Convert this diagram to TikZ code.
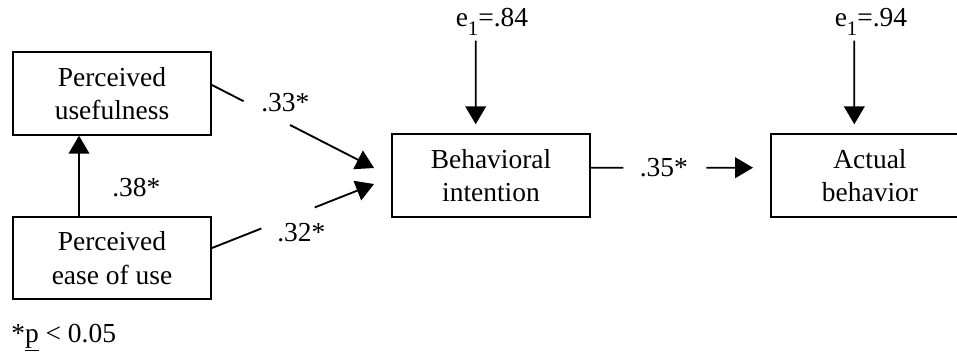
\documentclass[tikz,border=0pt]{standalone}
\usepackage{fontspec}
\setmainfont{Liberation Serif}
\usetikzlibrary{arrows.meta,calc}

\begin{document}
\begin{tikzpicture}[x=0.75pt,y=-0.75pt,
  every node/.style={font=\fontsize{20.6pt}{25pt}\selectfont, inner sep=0pt},
  varbox/.style={draw, line width=1.4pt, minimum width=148.5pt,
    minimum height=61.9pt, align=center},
  coef/.style={anchor=base west},
  link/.style={line width=1.4pt},
  arrowlink/.style={link, -{Triangle[length=13.5pt,width=15.5pt]}}]

% canvas
\useasboundingbox (0,0) rectangle (957,351);
\fill[white] (0,0) rectangle (957,351);

% variables
\node[varbox] (pu)   at (112,93.5)  {Perceived\\usefulness};
\node[varbox] (peou) at (112,258)   {Perceived\\ease of use};
\node[varbox] (bi)   at (491,175.5) {Behavioral\\intention};
\node[varbox] (ab)   at (870,175.5) {Actual\\behavior};

% path coefficients and error terms
\node[coef] (c33) at (261,111.7) {.33*};
\node[coef] (c32) at (277,241.7) {.32*};
\node[coef] (c38) at (112,196.7) {.38*};
\node[coef] (c35) at (639.5,176.7) {.35*};
\newcommand{\subone}{\raisebox{-6.5pt}{\fontsize{15.5pt}{15.5pt}\selectfont 1}}
\node[coef] (ebi) at (455.5,26.7) {e\subone=.84};
\node[coef] (eab) at (834.5,26.7) {e\subone=.94};
\node[coef] (note) at (11,342.7) {*\underline{p} < 0.05};

% connector end points
\coordinate (puout)   at ($(pu.east)+(0,-8.5)$);
\coordinate (biup)    at ($(bi.west)+(-17,-7.5)$);
\coordinate (peouout) at ($(peou.east)+(0,-10)$);
\coordinate (bilow)   at ($(bi.west)+(-17,8.5)$);
\coordinate (peouup)  at ($(peou.north)+(-33,0)$);
\coordinate (puin)    at (peouup |- pu.south);
\coordinate (biout)   at ($(bi.east)+(0,-7.8)$);
\coordinate (abin)    at ($(ab.west)+(-17,-7.8)$);
\coordinate (ebifoot) at (ebi.south west -| 475.7,0);
\coordinate (ebitop)  at ($(bi.north)+(-15.3,-9)$);
\coordinate (eabfoot) at (eab.south west -| 854.3,0);
\coordinate (eabtop)  at ($(ab.north)+(-15.7,-9)$);

% usefulness -> intention
\draw[link] (puout) -- ($(puout)!0.195!(biup)$);
\draw[arrowlink] ($(puout)!0.482!(biup)$) -- (biup);
% ease of use -> intention
\draw[link] (peouout) -- ($(peouout)!0.305!(bilow)$);
\draw[arrowlink] ($(peouout)!0.634!(bilow)$) -- (bilow);
% ease of use -> usefulness
\draw[arrowlink] (peouup) -- (puin);
% intention -> behavior
\draw[link] (biout) -- ($(biout)!0.2!(abin)$);
\draw[arrowlink] ($(biout)!0.712!(abin)$) -- (abin);
% error terms
\draw[arrowlink] ($(ebifoot)+(0,5)$) -- (ebitop);
\draw[arrowlink] ($(eabfoot)+(0,5)$) -- (eabtop);
\end{tikzpicture}
\end{document}
